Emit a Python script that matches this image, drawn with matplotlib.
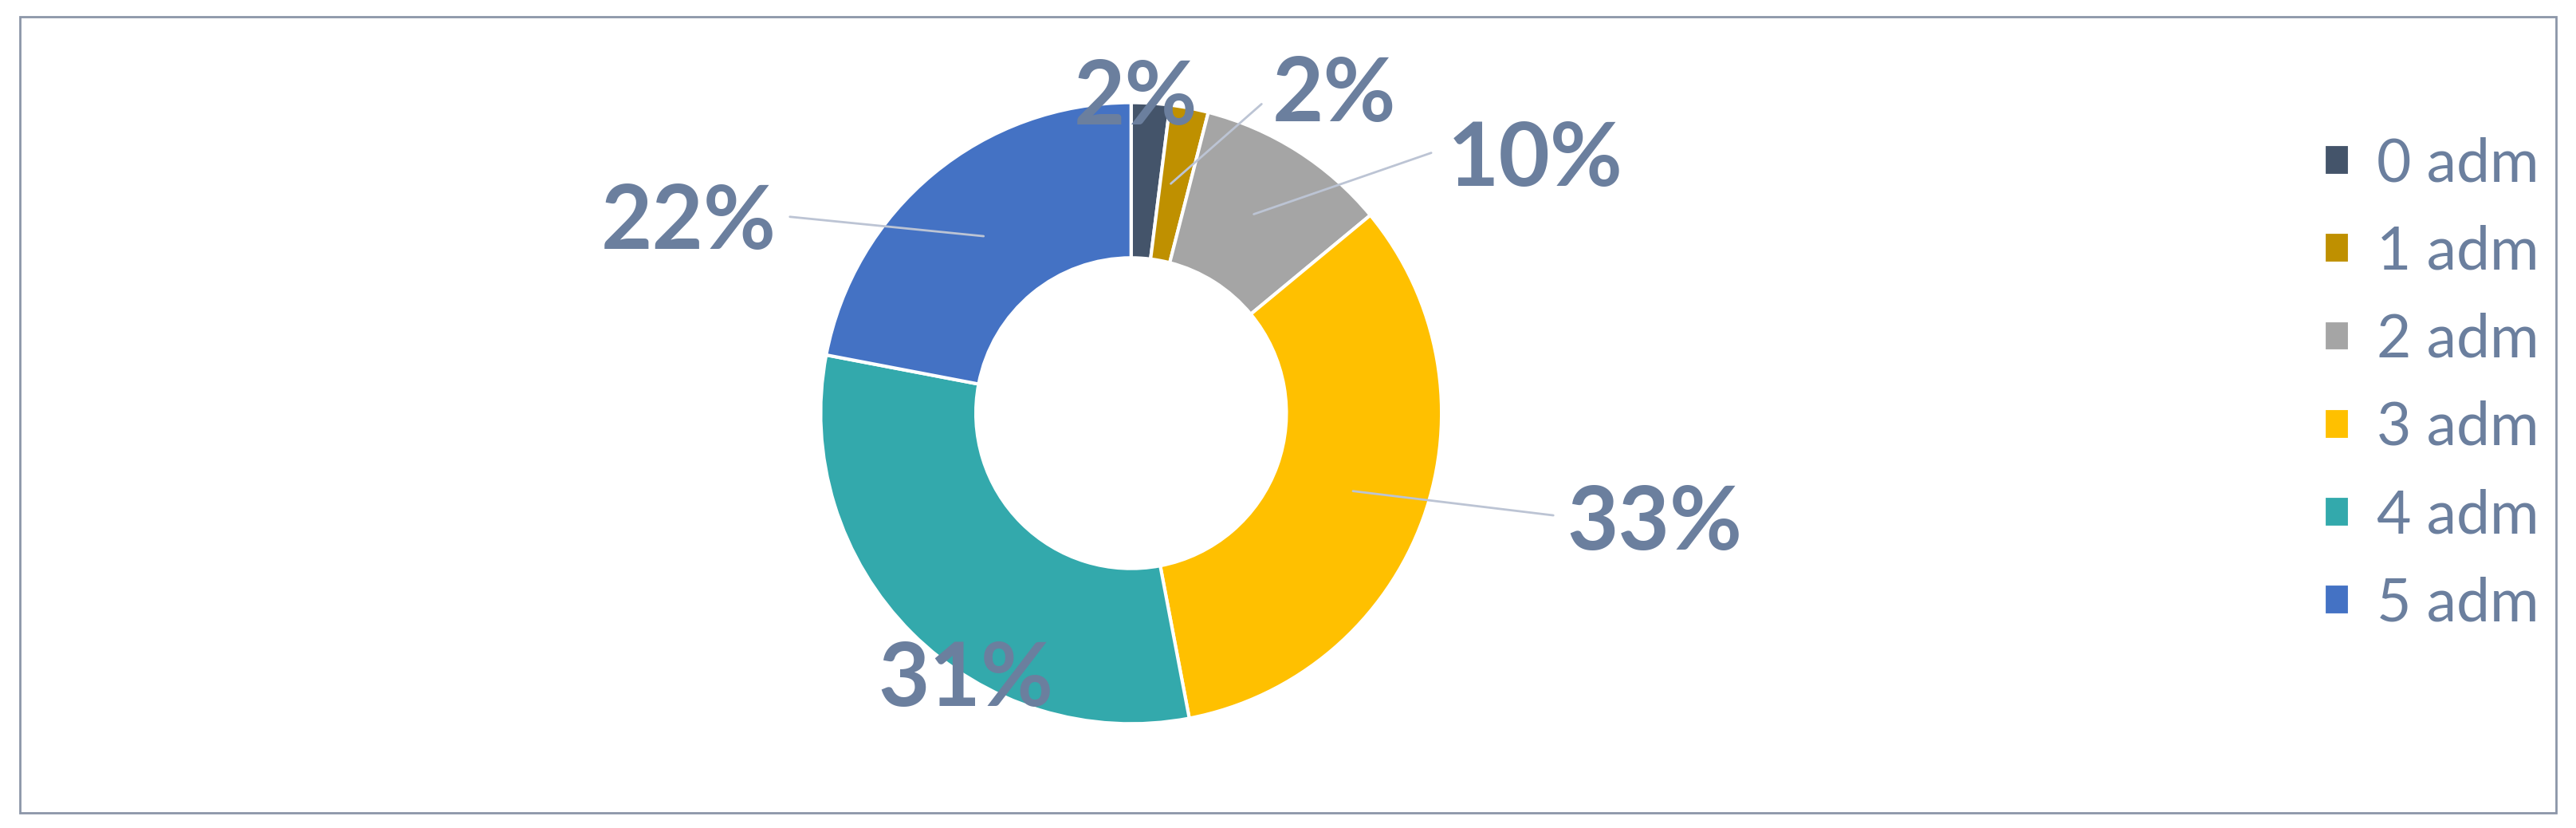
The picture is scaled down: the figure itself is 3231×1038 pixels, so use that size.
import matplotlib
matplotlib.use("Agg")
import matplotlib.pyplot as plt
from matplotlib.patches import Rectangle

plt.rcParams['font.family'] = ['Lato', 'DejaVu Sans']

categories = ["0 adm", "1 adm", "2 adm", "3 adm", "4 adm", "5 adm"]
values = [2, 2, 10, 33, 31, 22]
colors = ["#44546A", "#BF9000", "#A5A5A5", "#FFC000", "#33A9AC", "#4472C4"]
# label positions (display coords) and leader line targets
label_pos = [(688, 60), (808, 58), (930, 97), (1002, 317), (585, 412), (417, 135)]
line_to = [None, (708, 112), (758, 130), (818, 297), None, (597, 143)]
line_from = [None, (765, 62), (868, 92), (942, 312), None, (477, 131)]

fig = plt.figure(figsize=(32.31, 10.38), dpi=100)
ax = fig.add_axes([0, 0, 1, 1])
ax.add_patch(Rectangle((12, 10), 1536, 482, fill=False, ec="#8C96A8", lw=2))

wedges, _ = ax.pie(values, colors=colors, center=(685, 250), radius=188,
                   startangle=-90, counterclock=True,
                   wedgeprops=dict(width=94, edgecolor="white", linewidth=3),
                   frame=True)
ax.set_xlim(0, 1560)
ax.set_ylim(501, 0)
ax.set_aspect("equal")
ax.axis("off")

lab_col = "#6B7F9E"
for v, (x, y), tgt, src in zip(values, label_pos, line_to, line_from):
    if tgt is not None:
        ax.annotate("", xy=tgt, xytext=src,
                    arrowprops=dict(arrowstyle="-", color="#BCC4D4", lw=2))
    ax.text(x, y, f"{v}%", ha="center", va="center", fontsize=80,
            fontweight="bold", color=lab_col)

leg = ax.legend(wedges, categories, loc="upper left", bbox_to_anchor=(1375 / 1560, 1 - 50 / 501),
                bbox_transform=ax.transAxes, frameon=False, fontsize=54,
                handlelength=0.42, handleheight=0.42, handletextpad=0.45,
                labelspacing=0.55, labelcolor="#6B7F9E")
fig.savefig("out.png", dpi=100)
